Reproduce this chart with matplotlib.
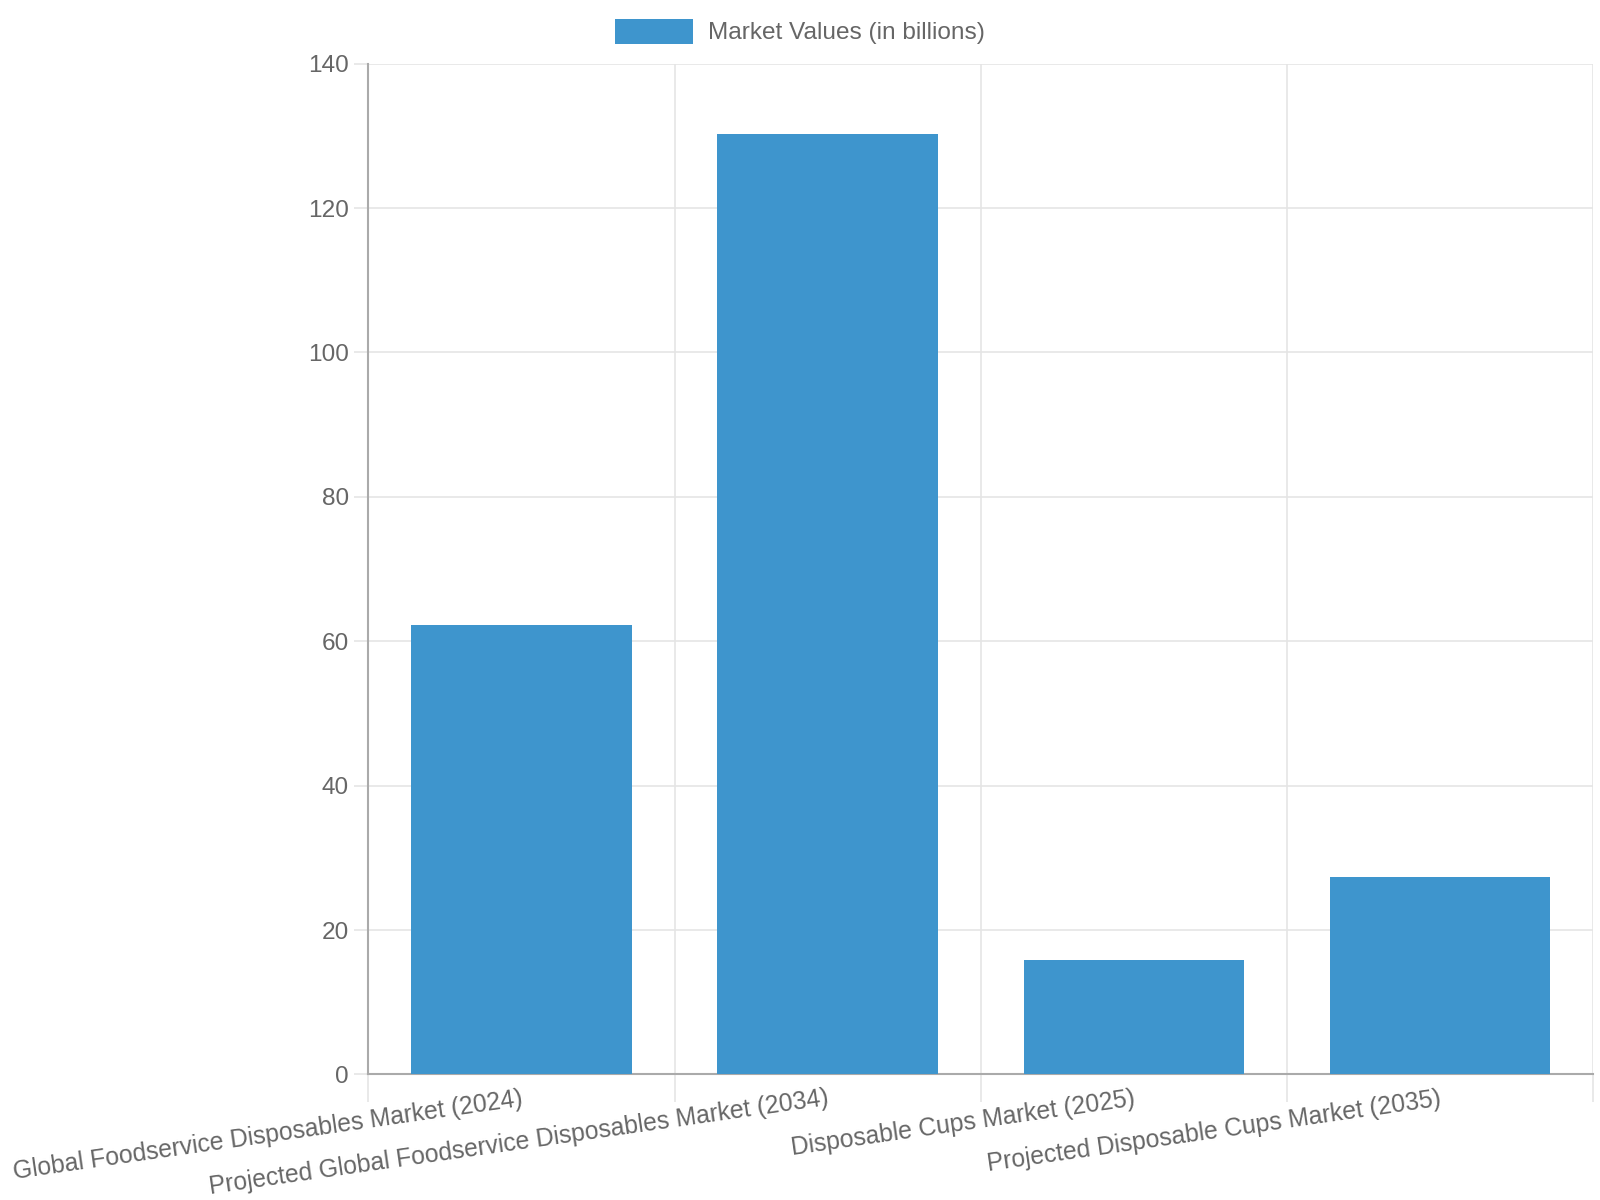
import numpy as np
import matplotlib.pyplot as plt
from matplotlib.patches import Patch

plt.rcParams['font.family'] = ['Liberation Sans', 'DejaVu Sans']

# Данные с графика
categories = ['Global Foodservice Disposables Market (2024)',
              'Projected Global Foodservice Disposables Market (2034)',
              'Disposable Cups Market (2025)',
              'Projected Disposable Cups Market (2035)']
values = [62.25, 130.2, 15.8, 27.4]
series_name = 'Market Values (in billions)'

bar_color = '#3e95cd'
text_color = '#666666'
grid_color = '#e5e5e5'
fs = 17.6

fig = plt.figure(figsize=(16, 12), dpi=100)
ax = fig.add_axes([0.2303, 0.1046, 0.7653, 0.8424])

x = np.arange(len(categories))
ax.bar(x, values, width=0.72, color=bar_color, zorder=3)

ax.set_xlim(-0.5, len(categories) - 0.5)
ax.set_ylim(0, 140)
ax.set_yticks(np.arange(0, 141, 20))

# вертикальная сетка по границам категорий
bounds = np.arange(-0.5, len(categories), 1.0)
for b in bounds[1:]:
    ax.axvline(b, color=grid_color, lw=1.2, zorder=1)
for yv in np.arange(20, 141, 20):
    ax.axhline(yv, color=grid_color, lw=1.2, zorder=1)

ax.set_xticks(bounds)
ax.set_xticklabels([''] * len(bounds))
ax.tick_params(axis='x', length=20, color=grid_color, width=1.2)
ax.tick_params(axis='y', length=10, color=grid_color, width=1.2,
               labelsize=fs, labelcolor=text_color, pad=4)

for i, lab in enumerate(categories):
    ax.annotate(lab, xy=(i, 0), xycoords='data',
                xytext=(-1, -12), textcoords='offset pixels',
                rotation=8.2, rotation_mode='anchor', ha='right', va='top',
                fontsize=17.85, color=text_color)

for s in ['top', 'right']:
    ax.spines[s].set_visible(False)
ax.spines['left'].set_color('#aaaaaa')
ax.spines['bottom'].set_color('#aaaaaa')
ax.spines['left'].set_linewidth(1.5)
ax.spines['bottom'].set_linewidth(1.5)

handle = Patch(facecolor=bar_color, label=series_name)
fig.legend(handles=[handle], loc='center', bbox_to_anchor=(0.5, 0.9737),
           frameon=False, fontsize=fs, labelcolor=text_color,
           handlelength=3.2, handleheight=1.2, handletextpad=0.6)

fig.savefig('out.png', dpi=100)
